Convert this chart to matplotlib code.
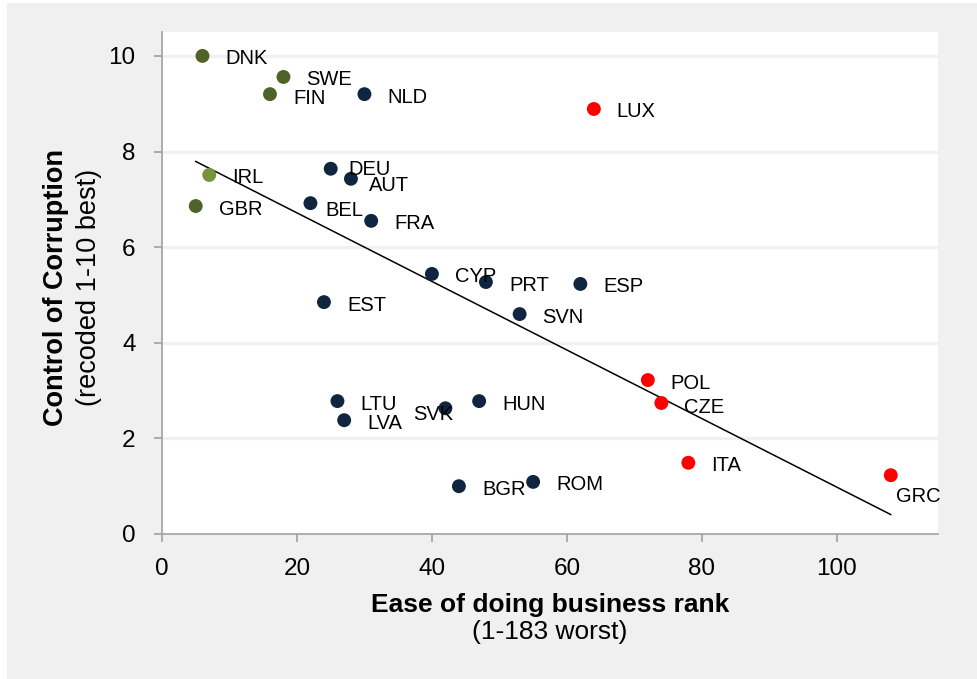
import matplotlib.pyplot as plt
import numpy as np
from matplotlib.patches import Rectangle

plt.rcParams['font.family'] = ['Liberation Sans', 'DejaVu Sans']

# country data: ease of doing business rank vs control of corruption
countries = ['DNK', 'SWE', 'FIN', 'NLD', 'LUX', 'DEU', 'AUT', 'BEL', 'FRA', 'IRL',
             'GBR', 'EST', 'CYP', 'PRT', 'ESP', 'SVN', 'LTU', 'LVA', 'SVK', 'HUN',
             'BGR', 'ROM', 'POL', 'CZE', 'ITA', 'GRC']
business_rank = [6, 18, 16, 30, 64, 25, 28, 22, 31, 7,
                 5, 24, 40, 48, 62, 53, 26, 27, 42, 47,
                 44, 55, 72, 74, 78, 108]
corruption = [10.0, 9.56, 9.2, 9.2, 8.89, 7.64, 7.43, 6.92, 6.55, 7.51,
              6.86, 4.85, 5.44, 5.27, 5.23, 4.6, 2.78, 2.38, 2.63, 2.78,
              1.0, 1.09, 3.22, 2.74, 1.49, 1.23]
groups = ['nordic', 'nordic', 'nordic', 'core', 'red', 'core', 'core', 'core', 'core', 'irl',
          'nordic', 'core', 'core', 'core', 'core', 'core', 'core', 'core', 'core', 'core',
          'core', 'core', 'red', 'red', 'red', 'red']

group_colors = {'nordic': '#4f6228', 'irl': '#77933c', 'core': '#10253f', 'red': '#ff0000'}

# label offsets in pixels (dx, dy)
offsets = {'DEU': (18, 1), 'AUT': (18, -5), 'BEL': (15, -5), 'SVK': (-32, -4),
           'GRC': (5, -19), 'CZE': (23, -2), 'FIN': (23, -2)}

fig = plt.figure(figsize=(9.78, 6.79), dpi=100)
fig.patch.set_facecolor('white')
fig.patches.append(Rectangle((7 / 978, 0), 1, 1 - 3 / 679, transform=fig.transFigure,
                             facecolor='#f0f0f0', edgecolor='none', zorder=-10))

ax = fig.add_axes([162 / 978, 1 - 534 / 679, (938 - 162) / 978, (534 - 32) / 679])
ax.set_facecolor('white')

ax.set_xlim(0, 115)
ax.set_ylim(0, 10.5)
ax.set_xticks(range(0, 101, 20))
ax.set_yticks(range(0, 11, 2))

for yv in range(2, 11, 2):
    ax.axhline(yv, color='#f0f0f0', lw=2.3, zorder=0)

for s in ['top', 'right']:
    ax.spines[s].set_visible(False)
for s in ['left', 'bottom']:
    ax.spines[s].set_color('#a0a0a0')
    ax.spines[s].set_linewidth(1.2)
ax.tick_params(axis='both', direction='out', length=6, width=1.2, color='#a0a0a0',
               labelsize=17.5)
ax.tick_params(axis='x', pad=11)
ax.tick_params(axis='y', pad=13)

colors = [group_colors[g] for g in groups]
ax.scatter(business_rank, corruption, s=100, c=colors, zorder=3, linewidths=0)

for name, x, y in zip(countries, business_rank, corruption):
    dx, dy = offsets.get(name, (23, -1))
    ax.annotate(name, (x, y), xytext=(dx, dy), textcoords='offset pixels',
                fontsize=14.5, va='center_baseline', ha='left', zorder=4)

# linear trend line
z = np.polyfit(business_rank, corruption, 1)
p = np.poly1d(z)
xs = np.array([min(business_rank), max(business_rank)])
ax.plot(xs, p(xs), color='black', lw=1.1, zorder=2)

fig.text(56 / 978, 1 - 287 / 679, 'Control of Corruption', rotation=90, fontsize=19.5,
         fontweight='bold', ha='center', va='center')
fig.text(89 / 978, 1 - 287 / 679, '(recoded 1-10 best)', rotation=90, fontsize=19.5,
         ha='center', va='center')
fig.text(550 / 978, 1 - 605 / 679, 'Ease of doing business rank', fontsize=19,
         fontweight='bold', ha='center', va='center')
fig.text(550 / 978, 1 - 632 / 679, '(1-183 worst)', fontsize=19, ha='center', va='center')

fig.savefig('out.png', dpi=100, facecolor=fig.get_facecolor())
